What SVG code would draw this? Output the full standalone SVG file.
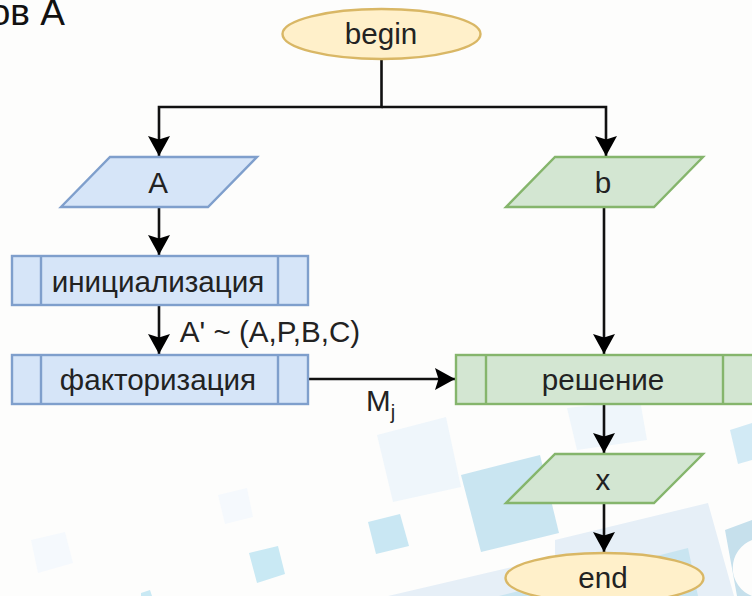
<svg xmlns="http://www.w3.org/2000/svg" width="752" height="596" viewBox="0 0 752 596">
<style>
text{font-family:"Liberation Sans",Arial,sans-serif;fill:#222;font-size:29.600px;text-anchor:middle}
.blue{fill:#d6e5f8;stroke:#7f9fcc;stroke-width:2.4}
.green{fill:#d3e6d2;stroke:#85b56c;stroke-width:2.4}
.yel{fill:#fff0ca;stroke:#d9b765;stroke-width:2.4}
.c{fill:none;stroke:#111;stroke-width:2.600}
</style>
<defs><marker id="a" markerUnits="userSpaceOnUse" markerWidth="24" markerHeight="24" refX="20" refY="11" orient="auto"><path d="M0 0L20 11L0 22L3.500 11Z" fill="#000"/></marker></defs>
<rect width="752" height="596" fill="#fdfdfc"/>
<g id="background">
<polygon points="377,435 446,417 461,487 393,502" fill="#eff6fb"/>
<polygon points="461,475 540,455 559,533 481,552" fill="#c9e5f1"/>
<polygon points="368,522 400,514 409,546 376,554" fill="#c9e7f3"/>
<polygon points="249,553 278,546 285,574 257,583" fill="#c9e9f4"/>
<polygon points="218,495 247,488 253,517 225,524" fill="#f5f9fd"/>
<polygon points="31,540 65,532 73,563 38,573" fill="#f5f9fd"/>
<polygon points="141,593 150,590 152,596 141,596" fill="#c9e9f4"/>
<polygon points="567,408 640,400 647,440 577,450" fill="#eff6fb"/>
<polygon points="730,430 752,423 752,460 738,464" fill="#d2eaf5"/>
<polygon points="555,540 708,503 734,596 388,596 555,557" fill="#e6eff7"/>
<polygon points="688,548 698,596 499,596" fill="#c9e5f1"/>
<path d="M725 530L752 520V540A30 30 0 0 0 752 596H737Z" fill="#c6e0ec"/>
</g>
<text x="65" y="25" style="font-size:37px;fill:#111;text-anchor:end">ов А</text>
<g id="connectors">
<path class="c" d="M381.500 59V107H159V156" marker-end="url(#a)"/>
<path class="c" d="M381.500 107H606V156" marker-end="url(#a)"/>
<path class="c" d="M159 207V255" marker-end="url(#a)"/>
<path class="c" d="M159 306V354" marker-end="url(#a)"/>
<path class="c" d="M309 379H455" marker-end="url(#a)"/>
<path class="c" d="M604 207V354" marker-end="url(#a)"/>
<path class="c" d="M604 405V453" marker-end="url(#a)"/>
<path class="c" d="M604 504V552" marker-end="url(#a)"/>
</g>
<g id="begin"><ellipse class="yel" cx="381.500" cy="34" rx="99" ry="25"/><text x="381" y="44">begin</text></g>
<g id="A"><polygon class="blue" points="110,157 257,157 208,207 61,207"/><text x="158" y="193">A</text></g>
<g id="b"><polygon class="green" points="555,157 703,157 654,207 506,207"/><text x="603" y="193">b</text></g>
<g id="init"><rect class="blue" x="12" y="256" width="296" height="49"/><path class="blue" d="M41 256V305M278 256V305"/><text x="158" y="292">инициализация</text></g>
<g id="fact"><rect class="blue" x="12" y="355" width="296" height="49"/><path class="blue" d="M41 355V404M278 355V404"/><text x="158" y="390">факторизация</text></g>
<g id="solve"><rect class="green" x="456" y="355" width="300" height="49"/><path class="green" d="M486 355V404M723 355V404"/><text x="603" y="390">решение</text></g>
<g id="x"><polygon class="green" points="555,454 703,454 654,503 506,503"/><text x="603" y="490">x</text></g>
<g id="end"><ellipse class="yel" cx="604.500" cy="578" rx="99" ry="25"/><text x="603" y="588">end</text></g>
<text x="270" y="342">A' ~ (A,P,B,C)</text>
<text x="366" y="411" style="text-anchor:start">M<tspan dy="8" style="font-size:20px">j</tspan></text>
</svg>
